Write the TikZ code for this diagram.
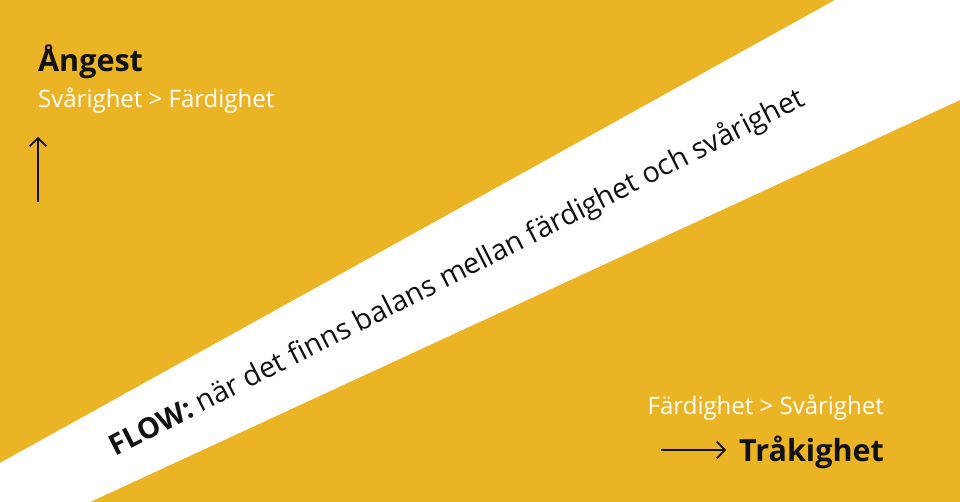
\documentclass[tikz,border=0pt]{standalone}
\usepackage{fontspec}
\setmainfont{Open Sans}
\usetikzlibrary{positioning,arrows.meta}
\definecolor{flowyellow}{HTML}{EBB425}
\definecolor{inkblack}{HTML}{111111}
\tikzset{
    state title/.style = {font=\bfseries\fontsize{30.5}{34}\selectfont,
                          text=inkblack, inner sep=0pt
    },
    state rule/.style = {font=\fontsize{24}{28}\selectfont,
                         text=white, inner sep=0pt
    },
    flow band/.style = {fill=white, draw=none},
    flow text/.style = {font=\fontsize{28.7}{34}\selectfont, text=inkblack,
                        inner sep=0pt, anchor=base west, rotate=27
    },
    axis arrow/.style = {-{Straight Barb[length=8pt, width=17pt]},
                         line width=1.8pt, draw=inkblack
    },
}
\begin{document}
\begin{tikzpicture}[x=1pt, y=1pt]
        \fill[flowyellow] (0,0) rectangle (960,502);
        \useasboundingbox (0,0) rectangle (960,502);
        \fill[flow band] (0,39) -- (835,502) -- (960,502) -- (960,402)
                         -- (90,0) -- (0,0) -- cycle;
        \node (flow) [flow text] at (115,45)
                  {\textbf{FLOW:} när det finns balans mellan färdighet och svårighet};
        % upper left: anxiety
        \node (angest) [state title, anchor=base west] at (38,430) {Ångest};
        \node (hard) [state rule, anchor=base west] at (38,394)
                  {Svårighet > Färdighet};
        \coordinate (up start) at (38,300);
        \coordinate (up end) at (38,365);
        \draw[axis arrow] (up start) -- (up end);
        % lower right: boredom
        \node (easy) [state rule, anchor=base east] at (884,87)
                  {Färdighet > Svårighet};
        \node (trakig) [state title, anchor=base east] at (884,40) {Tråkighet};
        \coordinate (right start) at (661,52);
        \coordinate (right end) at (726,52);
        \draw[axis arrow] (right start) -- (right end);
    \end{tikzpicture}
\end{document}
